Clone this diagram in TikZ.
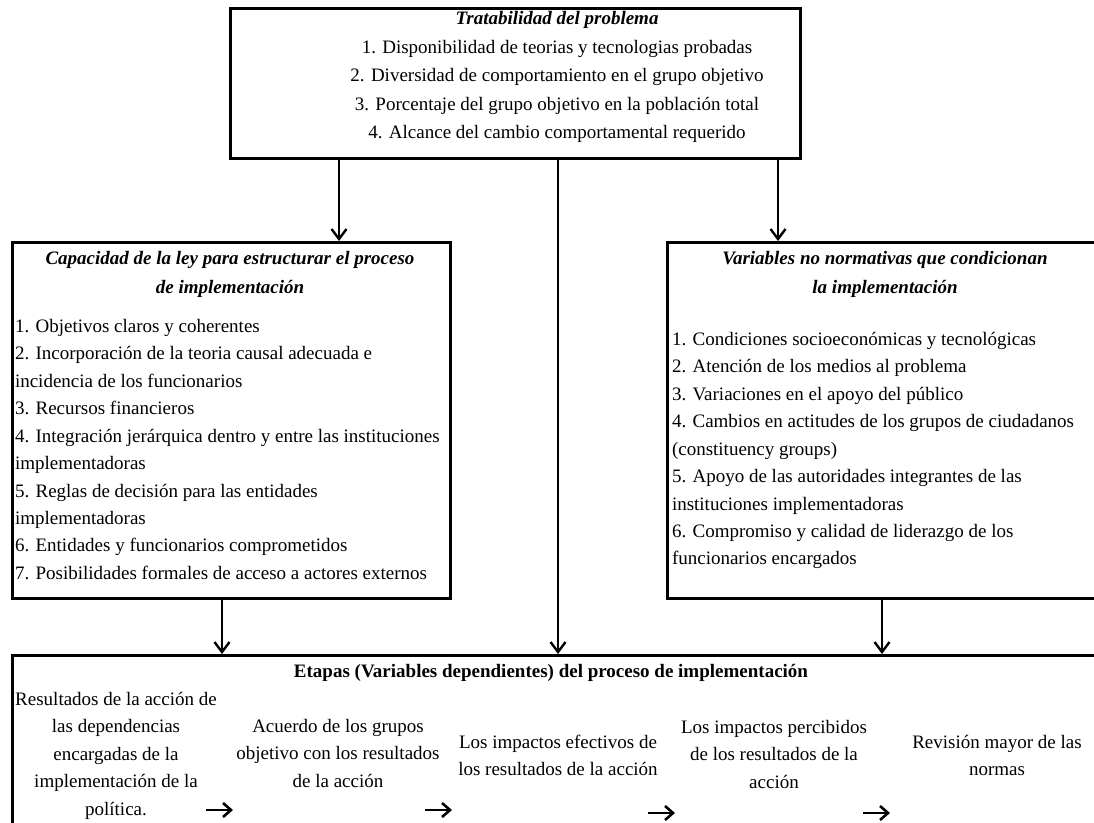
\documentclass[tikz,border=0pt]{standalone}
\usepackage{fontspec}
\setmainfont{Liberation Serif}
\usetikzlibrary{arrows.meta}
\begin{document}
\begin{tikzpicture}[x=1pt,y=-1pt,
  box/.style={draw,line width=2.8pt,anchor=north west,inner sep=0pt},
  txt/.style={inner sep=0pt,outer sep=0pt},
  body/.style={font=\fontsize{19}{27.45}\selectfont},
  head/.style={font=\fontsize{19}{29}\selectfont\bfseries\itshape},
  arr/.style={line width=2.4pt,-{Straight Barb[length=10pt,width=15pt,line width=2.4pt]}},
  stage/.style={line width=2.6pt,-{Straight Barb[length=8pt,width=14pt,line width=2.6pt]}}
]
\useasboundingbox (0,0) rectangle (1094,822);
\fill[white] (0,0) rectangle (1094,822);
\clip (0,0) rectangle (1094,822);

% boxes
\node[box,minimum width=570pt,minimum height=150pt] (tb) at (229,7) {};
\node[box,minimum width=438pt,minimum height=356pt] (lb) at (11,241) {};
\node[box,minimum width=460pt,minimum height=356pt] (rb) at (666,241) {};
\node[box,minimum width=1120pt,minimum height=220pt] (bb) at (11,654) {};

% top box text
\node[txt,anchor=base,head] (tbh) at (557,24.3) {Tratabilidad del problema};
\node[txt,anchor=north,align=center,font=\fontsize{19}{28.5}\selectfont] (tbt) at (557,33.4)
  {\strut 1. Disponibilidad de teorias y tecnologias probadas\\
   2. Diversidad de comportamiento en el grupo objetivo\\
   3. Porcentaje del grupo objetivo en la población total\\
   4. Alcance del cambio comportamental requerido};

% left box text
\node[txt,anchor=north,align=center,head] (lbh) at (230,244)
  {\strut Capacidad de la ley para estructurar el proceso\\ de implementación};
\node[txt,anchor=north west,align=left,body] (lbt) at (15,313.1)
  {\strut 1. Objetivos claros y coherentes\\
   2. Incorporación de la teoria causal adecuada e\\
   incidencia de los funcionarios\\
   3. Recursos financieros\\
   4. Integración jerárquica dentro y entre las instituciones\\
   implementadoras\\
   5. Reglas de decisión para las entidades\\
   implementadoras\\
   6. Entidades y funcionarios comprometidos\\
   7. Posibilidades formales de acceso a actores externos};

% right box text
\node[txt,anchor=north,align=center,head] (rbh) at (885,244)
  {\strut Variables no normativas que condicionan\\ la implementación};
\node[txt,anchor=north west,align=left,body] (rbt) at (672,326.1)
  {\strut 1. Condiciones socioeconómicas y tecnológicas\\
   2. Atención de los medios al problema\\
   3. Variaciones en el apoyo del público\\
   4. Cambios en actitudes de los grupos de ciudadanos\\
   (constituency groups)\\
   5. Apoyo de las autoridades integrantes de las\\
   instituciones implementadoras\\
   6. Compromiso y calidad de liderazgo de los\\
   funcionarios encargados};

% bottom box text
\node[txt,anchor=base,font=\fontsize{19}{27.5}\selectfont\bfseries] (bbh) at (551,677.3)
  {Etapas (Variables dependientes) del proceso de implementación};
\node[txt,anchor=north,align=center,body] (s1) at (116,686)
  {\strut Resultados de la acción de\\ las dependencias\\ encargadas de la\\ implementación de la\\ política.};
\node[txt,anchor=north,align=center,body] (s2) at (338,713)
  {\strut Acuerdo de los grupos\\ objetivo con los resultados\\ de la acción};
\node[txt,anchor=north,align=center,body] (s3) at (558,729)
  {\strut Los impactos efectivos de\\ los resultados de la acción};
\node[txt,anchor=north,align=center,body] (s4) at (774,714)
  {\strut Los impactos percibidos\\ de los resultados de la\\ acción};
\node[txt,anchor=north,align=center,body] (s5) at (997,729)
  {\strut Revisión mayor de las\\ normas};

% connectors
\coordinate (xa) at (339,0);
\coordinate (xb) at (558,0);
\coordinate (xc) at (778,0);
\coordinate (xd) at (222,0);
\coordinate (xe) at (882,0);
\draw[arr] (tb.south -| xa) -- (lb.north -| xa);
\draw[arr] (tb.south -| xc) -- (rb.north -| xc);
\draw[arr] (tb.south -| xb) -- (bb.north -| xb);
\draw[arr] (lb.south -| xd) -- (bb.north -| xd);
\draw[arr] (rb.south -| xe) -- (bb.north -| xe);

% stage arrows
\coordinate (a1) at (206,810); \coordinate (b1) at (233,810);
\coordinate (a2) at (425,810); \coordinate (b2) at (452,810);
\coordinate (a3) at (648,813); \coordinate (b3) at (675,813);
\coordinate (a4) at (863,813); \coordinate (b4) at (890,813);
\draw[stage] (a1) -- (b1);
\draw[stage] (a2) -- (b2);
\draw[stage] (a3) -- (b3);
\draw[stage] (a4) -- (b4);
\end{tikzpicture}
\end{document}
